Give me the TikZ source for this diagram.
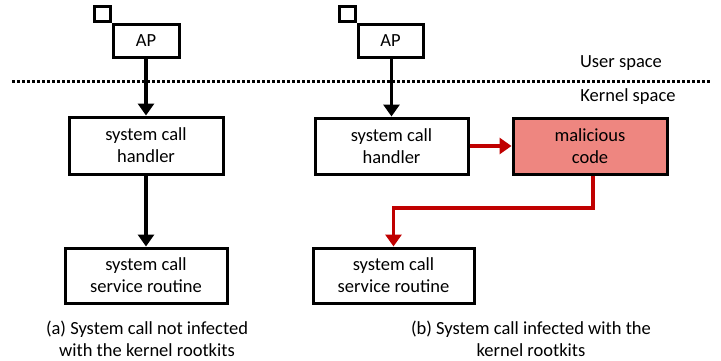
\documentclass[tikz,border=0pt]{standalone}
\usepackage{fontspec}
\setmainfont{Carlito}
\usetikzlibrary{arrows.meta}
\definecolor{malfill}{HTML}{EE8680}
\definecolor{hookred}{HTML}{C00000}
\tikzset{
  box/.style={draw=black, line width=3pt, inner sep=0pt, align=center,
    font=\fontsize{18.5}{22}\selectfont},
  tag/.style={draw=black, line width=2.6pt, inner sep=0pt, minimum width=16pt, minimum height=15pt},
  flow/.style={line width=3.2pt, -{Triangle[width=16pt,length=12pt]}},
  hook/.style={flow, draw=hookred, -{Triangle[width=16pt,length=12pt,fill=hookred]}},
  lbl/.style={inner sep=0pt, align=center, font=\fontsize{18.5}{22}\selectfont},
}
\begin{document}
\begin{tikzpicture}[x=1pt,y=-1pt]
\useasboundingbox (0,0) rectangle (721,360);

% user / kernel boundary
\draw[line width=3pt, dash pattern=on 3pt off 2pt] (12,81) -- (711,81);
\node[lbl] (user) at (621,63) {User space};
\node[lbl] (kernel) at (628,97) {Kernel space};

% (a) clean system call path
\node[box, minimum width=66pt, minimum height=33pt] (apL) at (146,40.5) {AP};
\node[tag, anchor=south east] (tagL) at (apL.north west) {};
\node[box, minimum width=154pt, minimum height=57pt] (hL) at (146,145.5) {system call\\handler};
\node[box, minimum width=162pt, minimum height=55pt] (sL) at (146,275.5) {system call\\service routine};
\draw[flow] (apL.south) -- (hL.north);
\draw[flow] (hL.south) -- (sL.north);
\node[lbl] (capA) at (147,339) {(a) System call not infected\\with the kernel rootkits};

% (b) hooked system call path
\node[box, minimum width=65pt, minimum height=33pt] (apR) at (390.5,40.5) {AP};
\node[tag, anchor=south east] (tagR) at (apR.north west) {};
\node[box, minimum width=153pt, minimum height=56pt] (hR) at (391.5,146) {system call\\handler};
\node[box, fill=malfill, minimum width=154pt, minimum height=56pt] (mal) at (590,146) {malicious\\code};
\node[box, minimum width=161pt, minimum height=55pt] (sR) at (393.5,275.5) {system call\\service routine};
\draw[flow] (apR.south -| hR.north) -- (hR.north);
\draw[hook] (hR.east) -- (mal.west);
\coordinate (drop) at (593,208);
\draw[hook] (mal.south -| drop) -- (drop) -| (sR.north);
\node[lbl] (capB) at (531,339) {(b) System call infected with the\\kernel rootkits};
\end{tikzpicture}
\end{document}
